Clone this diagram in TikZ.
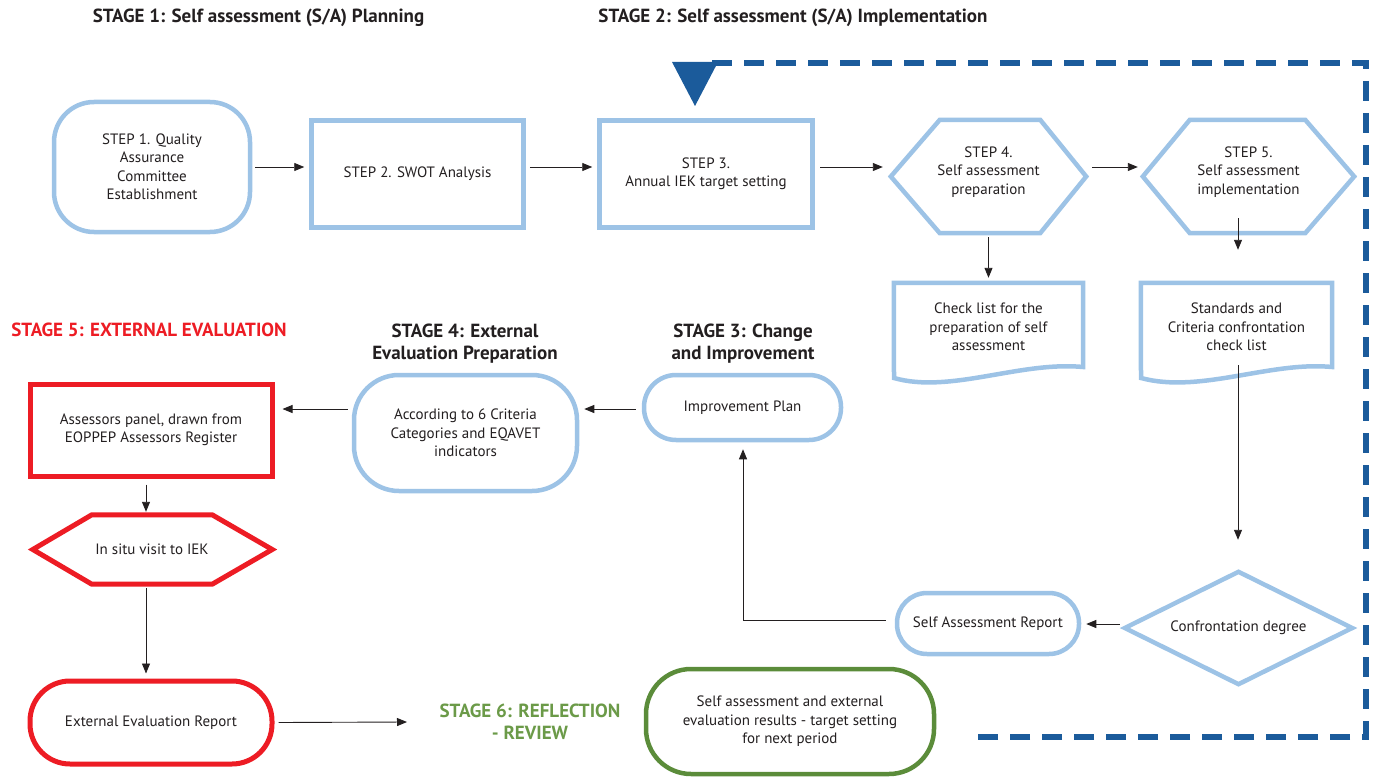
\documentclass[tikz,border=0pt]{standalone}
\usepackage{fontspec}
\setmainfont{PT Sans}
\usetikzlibrary{arrows.meta,calc}
\definecolor{lb}{HTML}{9DC3E6}
\definecolor{db}{HTML}{1B5B9B}
\definecolor{rd}{HTML}{ED1C24}
\definecolor{gb}{HTML}{5B8C3A}
\definecolor{gt}{HTML}{6B9A48}
\definecolor{tx}{HTML}{231F20}
\begin{document}
\begin{tikzpicture}[x=1pt,y=-1pt,
  every node/.style={font=\fontsize{15}{18.5}\selectfont, align=center, inner sep=0pt, text=tx},
  bluebox/.style={draw=lb, line width=4.5pt, fill=white},
  redbox/.style={draw=rd, line width=5pt, fill=white},
  greenbox/.style={draw=gb, line width=4.5pt, fill=white},
  ghost/.style={draw=none},
  conn/.style={draw=tx, line width=0.9pt, -{Triangle[length=10pt,width=8pt]}},
  stagetitle/.style={font=\fontsize{19}{22}\selectfont\bfseries}]

\useasboundingbox (0,0) rectangle (1378,778);

% titles
\node[stagetitle] (t1) at (258.5,18) {STAGE 1: Self assessment (S/A) Planning};
\node[stagetitle] (t2) at (793,18) {STAGE 2: Self assessment (S/A) Implementation};
\node[stagetitle, text=rd] (t5) at (149,330) {STAGE 5: EXTERNAL EVALUATION};
\node[stagetitle] (t4) at (465,344) {STAGE 4: External\\Evaluation Preparation};
\node[stagetitle] (t3) at (743,344) {STAGE 3: Change\\and Improvement};
\node[stagetitle, text=gt] (t6) at (530,722) {STAGE 6: REFLECTION\\- REVIEW};
\coordinate (t6in) at (407,722);

% dashed loop and triangle
\coordinate (lp1) at (712,63);
\coordinate (lp2) at (1366,63);
\coordinate (lp3) at (1366,737);
\coordinate (lp4) at (968,737);
\draw[db, line width=6pt, dash pattern=on 20pt off 12pt] (lp1) -- (lp2) -- (lp3) -- (lp4);
\fill[db] (672,62) -- (718,62) -- (695,106) -- cycle;

% row 1
\node[bluebox, rounded corners=40pt, minimum width=196pt, minimum height=130pt] (s1) at (152,167) {STEP 1. Quality\\Assurance\\Committee\\Establishment};
\node[bluebox, minimum width=212pt, minimum height=107pt] (s2) at (417.5,174) {STEP 2. SWOT Analysis};
\node[bluebox, minimum width=213pt, minimum height=107pt] (s3) at (706,174) {STEP 3.\\Annual IEK target setting};

\node[ghost, minimum width=195pt, minimum height=113pt] (s4) at (988.5,176.5) {};
\draw[bluebox] (s4.west) -- ($(s4.north west)+(49,0)$) -- ($(s4.north east)+(-46,0)$) -- (s4.east) -- ($(s4.south east)+(-46,0)$) -- ($(s4.south west)+(49,0)$) -- cycle;
\node at (988.5,172) {STEP 4.\\Self assessment\\preparation};

\node[ghost, minimum width=211pt, minimum height=113pt] (s5) at (1248.5,176.5) {};
\draw[bluebox] (s5.west) -- ($(s5.north west)+(47,0)$) -- ($(s5.north east)+(-49,0)$) -- (s5.east) -- ($(s5.south east)+(-49,0)$) -- ($(s5.south west)+(47,0)$) -- cycle;
\node at (1248.5,172) {STEP 5.\\Self assessment\\implementation};

\draw[conn] ($(s1.east)+(3,0)$) -- ($(s2.west)+(-5,-7)$);
\draw[conn] ($(s2.east)+(4,-7)$) -- ($(s3.west)+(-5,-7)$);
\draw[conn] ($(s3.east)+(5.5,-7)$) -- ($(s4.west)+(-8,-9.5)$);
\draw[conn] ($(s4.east)+(6,-9.5)$) -- ($(s5.west)+(-5,-9.5)$);

% documents
\node[ghost, minimum width=189pt, minimum height=95pt] (d1) at (988.5,330.5) {};
\draw[bluebox] (d1.north west) -- (d1.north east) -- (1083,367) .. controls (1020,361) and (950,394) .. (894,378) -- cycle;
\node at (988.5,327) {Check list for the\\preparation of self\\assessment};

\node[ghost, minimum width=191pt, minimum height=95pt] (d2) at (1236.5,330.5) {};
\draw[bluebox] (d2.north west) -- (d2.north east) -- (1332,367) .. controls (1270,361) and (1200,394) .. (1141,378) -- cycle;
\node at (1236.5,327) {Standards and\\Criteria confrontation\\check list};

\draw[conn] ($(s4.south)+(0,4)$) -- ($(d1.north)+(0,-5)$);
\draw[conn] ($(s5.south)+(-10.5,-15)$) -- ($(d2.north)+(1.5,-33)$);

% diamond
\node[ghost, minimum width=227pt, minimum height=112pt] (dia) at (1238.5,628) {};
\draw[bluebox] (dia.west) -- (dia.north) -- (dia.east) -- (dia.south) -- cycle;
\node at (1238.5,628) {Confrontation degree};
\draw[conn] (1238,365) -- ($(dia.north)+(-0.5,-32)$);

% self assessment report
\node[bluebox, rounded corners=30pt, minimum width=182pt, minimum height=61pt] (sar) at (988,623.5) {Self Assessment Report};
\draw[conn] ($(dia.west)+(-5,-4)$) -- ($(sar.east)+(5,0.5)$);

% improvement plan
\node[bluebox, rounded corners=32pt, minimum width=197pt, minimum height=65pt] (ip) at (742.5,407.5) {Improvement Plan};
\draw[conn] ($(sar.west)+(-9,-3.5)$) -| ($(ip.south)+(0.5,7)$);

% stage 4 box
\node[bluebox, rounded corners=45pt, minimum width=223pt, minimum height=116pt] (ep) at (465.5,433) {According to 6 Criteria\\Categories and EQAVET\\indicators};
\draw[conn] ($(ip.west)+(-6,1.5)$) -- ($(ep.east)+(5,-24)$);

% stage 5 red
\node[redbox, minimum width=242pt, minimum height=92pt] (ass) at (151,430) {Assessors panel, drawn from\\EOPPEP Assessors Register};
\draw[conn] ($(ep.west)+(-4,-24)$) -- ($(ass.east)+(8,-21)$);

\node[ghost, minimum width=239pt, minimum height=69pt] (vis) at (152.5,549.5) {};
\draw[redbox] (vis.west) -- ($(vis.north west)+(59,0)$) -- ($(vis.north east)+(-60,0)$) -- (vis.east) -- ($(vis.south east)+(-60,0)$) -- ($(vis.south west)+(59,0)$) -- cycle;
\node at (152,549) {In situ visit to IEK};
\draw[conn] ($(ass.south)+(-5,6)$) -- ($(vis.north)+(-6.5,-3)$);

\node[redbox, rounded corners=40pt, minimum width=242pt, minimum height=83pt] (eer) at (151,722.5) {External Evaluation Report};
\draw[conn] ($(vis.south)+(-6.5,4)$) -- ($(eer.north)+(-5,-5)$);
\draw[conn] ($(eer.east)+(4,0)$) -- (t6in);

% stage 6 green
\node[greenbox, rounded corners=45pt, minimum width=288pt, minimum height=105pt] (res) at (790,721.5) {Self assessment and external\\evaluation results - target setting\\for next period};
\end{tikzpicture}
\end{document}
